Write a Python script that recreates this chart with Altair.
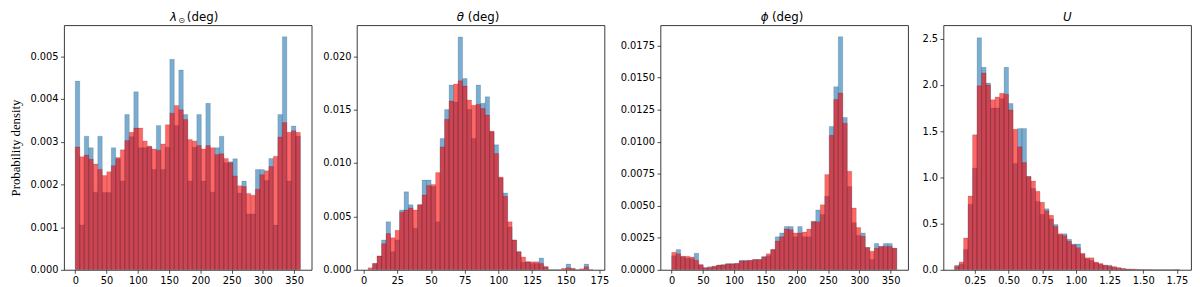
import altair as alt
import numpy as np
import pandas as pd

# ---------------- data ----------------
# Panel 1: lambda_sun (deg), 50 bins 0..360, values in units of 1e-3
lam_blue = [4.42, 1.05, 3.13, 2.86, 1.82, 3.13, 1.81, 1.81, 2.86, 2.60,
            2.08, 3.64, 3.12, 4.17, 2.86, 2.86, 2.88, 2.35, 3.38, 2.35,
            2.87, 4.93, 3.38, 4.68, 3.64, 2.08, 2.87, 3.64, 2.08, 3.90,
            1.82, 2.86, 3.13, 2.51, 2.53, 2.60, 1.80, 2.08, 1.31, 1.31,
            2.35, 2.35, 2.09, 2.61, 1.05, 3.64, 5.46, 2.08, 3.37, 3.13]
lam_red = [2.88, 2.65, 2.69, 2.59, 2.48, 2.35, 2.21, 2.30, 2.44, 2.63,
           2.81, 3.03, 3.22, 3.32, 3.32, 3.02, 2.90, 2.83, 2.80, 2.95,
           3.40, 3.67, 3.85, 3.75, 3.52, 3.05, 3.02, 2.91, 2.83, 2.91,
           2.86, 2.70, 2.72, 2.61, 2.51, 2.20, 1.97, 1.95, 1.79, 1.75,
           1.89, 2.23, 2.32, 2.42, 2.66, 3.11, 3.45, 3.22, 3.26, 3.22]
lam_range = [0.0, 360.0]

# Panel 2: theta (deg), 50 bins, units 1e-3
th_blue = [0.0, 0.6, 1.3, 2.8, 4.5, 1.7, 2.8, 5.6, 7.3, 6.1,
           3.9, 6.1, 8.4, 8.4, 7.8, 4.5, 12.3, 15.0, 17.3, 15.7,
           21.8, 17.9, 15.0, 12.3, 17.3, 15.6, 16.2, 12.9, 11.7, 8.6,
           7.2, 4.0, 2.8, 1.7, 0.7, 0.75, 0.6, 0.6, 1.1, 0.3,
           0.0, 0.0, 0.0, 0.0, 0.54, 0.1, 0.0, 0.0, 0.54, 0.0]
th_red = [0.2, 0.6, 1.3, 2.45, 3.4, 3.0, 3.7, 5.4, 5.6, 5.8,
          5.6, 6.1, 7.0, 7.9, 8.0, 9.1, 11.5, 14.1, 15.8, 17.4,
          17.7, 17.2, 15.9, 15.4, 15.5, 15.1, 14.5, 13.0, 10.9, 8.7,
          6.9, 4.5, 2.8, 1.7, 1.2, 0.75, 0.75, 0.75, 0.6, 0.3,
          0.0, 0.0, 0.0, 0.15, 0.2, 0.15, 0.0, 0.1, 0.3, 0.0]
th_range = [3.25, 170.35]

# Panel 3: phi (deg), 50 bins 0..360, units 1e-3
ph_blue = [1.10, 1.58, 1.05, 0.90, 0.87, 1.30, 0.37, 0.17, 0.25, 0.25,
           0.37, 0.42, 0.50, 0.50, 0.50, 0.75, 0.75, 0.72, 0.80, 0.80,
           1.05, 1.10, 1.58, 2.58, 2.88, 3.38, 3.38, 2.58, 3.38, 2.58,
           2.58, 3.80, 4.68, 4.33, 5.75, 11.2, 14.3, 18.2, 11.9, 6.5,
           3.68, 2.68, 2.88, 1.75, 0.80, 2.05, 1.83, 2.05, 2.05, 1.68]
ph_red = [1.38, 1.25, 1.05, 1.07, 1.00, 0.75, 0.42, 0.17, 0.17, 0.30,
          0.37, 0.37, 0.45, 0.45, 0.50, 0.70, 0.70, 0.75, 0.80, 0.80,
          1.00, 1.25, 1.58, 2.25, 2.58, 3.18, 3.13, 2.88, 2.88, 2.95,
          3.18, 3.75, 3.75, 5.08, 7.45, 10.5, 13.3, 13.8, 11.45, 7.7,
          4.83, 3.30, 2.63, 1.75, 1.45, 1.68, 1.83, 1.83, 1.83, 1.68]
ph_range = [0.0, 360.0]

# Panel 4: U, 50 bins
u_blue = [0.05, 0.06, 0.22, 0.71, 1.10, 2.51, 2.19, 2.02, 1.75, 1.75,
          1.85, 2.19, 1.80, 1.15, 1.53, 1.53, 1.01, 0.88, 0.74, 0.60,
          0.66, 0.55, 0.49, 0.38, 0.39, 0.33, 0.28, 0.28, 0.17, 0.12,
          0.10, 0.075, 0.06, 0.05, 0.05, 0.025, 0.017, 0.01, 0.007, 0.005,
          0.0, 0.0, 0.0, 0.0, 0.0, 0.0, 0.0, 0.0, 0.0, 0.003]
u_red = [0.035, 0.086, 0.345, 0.80, 1.46, 1.99, 2.13, 2.00, 1.84, 1.87,
         1.91, 1.90, 1.73, 1.52, 1.33, 1.16, 1.01, 0.96, 0.85, 0.73,
         0.64, 0.59, 0.47, 0.39, 0.37, 0.31, 0.27, 0.24, 0.18, 0.13,
         0.13, 0.086, 0.07, 0.05, 0.04, 0.035, 0.025, 0.017, 0.01, 0.01,
         0.007, 0.005, 0.004, 0.003, 0.002, 0.002, 0.001, 0.001, 0.001, 0.001]
u_range = [0.099, 1.769]

lam_xticks = [0, 50, 100, 150, 200, 250, 300, 350]
th_xticks = [0, 25, 50, 75, 100, 125, 150, 175]
ph_xticks = [0, 50, 100, 150, 200, 250, 300, 350]
u_xticks = [0.25, 0.50, 0.75, 1.00, 1.25, 1.50, 1.75]

lam_yticks = [0.0, 0.001, 0.002, 0.003, 0.004, 0.005]
th_yticks = [0.0, 0.005, 0.010, 0.015, 0.020]
ph_yticks = [0.0, 0.0025, 0.005, 0.0075, 0.010, 0.0125, 0.015, 0.0175]
u_yticks = [0.0, 0.5, 1.0, 1.5, 2.0, 2.5]

# title pieces: (symbol, subscript, rest)
title_parts = [("λ", "⊙", "(deg)"), ("θ", "", "(deg)"), ("ϕ", "", "(deg)"), ("U", "", "")]
# pixel layout of the title pieces inside each panel: (symbol right edge, subscript left, rest left)
title_pos = [(115, 116.5, 125), (109, 0, 113), (110, 0, 113.5), (126, 0, 0)]

BLUE = "#1f77b4"
RED = "#ff0000"
W = 252
H = 249
FONT = "DejaVu Sans"


def txt(s, **kw):
    return alt.Chart(pd.DataFrame({"t": [s]})).mark_text(
        font=FONT, baseline="alphabetic", color="#000", **kw).encode(text="t:N")


def title_layers(parts, pos):
    sym, sub, rest = parts
    xs, xsub, xr = pos
    ty = -4
    layers = []
    if rest:
        layers.append(txt(sym, fontSize=12, fontStyle="italic", align="right").encode(
            x=alt.value(xs), y=alt.value(ty)))
        if sub:
            layers.append(txt(sub, fontSize=8, align="left").encode(
                x=alt.value(xsub), y=alt.value(ty + 2)))
        layers.append(txt(rest, fontSize=12, align="left").encode(
            x=alt.value(xr), y=alt.value(ty)))
    else:
        layers.append(txt(sym, fontSize=12, fontStyle="italic", align="center").encode(
            x=alt.value(xs), y=alt.value(ty)))
    return layers


def panel(blue, red, rng, scale, xdomain, xticks, xfmt, ydomain, yticks, yfmt,
          parts, pos, ytitle=None):
    n = len(blue)
    edges = np.linspace(rng[0], rng[1], n + 1)
    df = pd.DataFrame({
        "x0": list(edges[:-1]) * 2,
        "x1": list(edges[1:]) * 2,
        "v": [b * scale for b in blue] + [r * scale for r in red],
        "s": ["b"] * n + ["r"] * n,
    })
    xaxis = alt.Axis(values=xticks, format=xfmt, title=None, labelFlush=False,
                     labelOverlap=False)
    if ytitle:
        yaxis = alt.Axis(values=yticks, format=yfmt, title=ytitle,
                         titleFont="Liberation Serif", titleFontSize=13,
                         titleFontWeight="normal", titleColor="#000",
                         titlePadding=8, labelOverlap=False)
    else:
        yaxis = alt.Axis(values=yticks, format=yfmt, title=None, labelOverlap=False)
    base = alt.Chart(df)
    xs = alt.Scale(domain=xdomain, nice=False, zero=False)
    ys = alt.Scale(domain=ydomain, nice=False)
    layers = []
    for key, col in (("b", BLUE), ("r", RED)):
        layers.append(
            base.transform_filter(alt.datum.s == key).mark_bar(
                color=col, fillOpacity=0.6, stroke="#000", strokeOpacity=0.22,
                strokeWidth=0.6, clip=True
            ).encode(
                x=alt.X("x0:Q", scale=xs, axis=xaxis),
                x2="x1:Q",
                y=alt.Y("v:Q", scale=ys, axis=yaxis),
                y2=alt.datum(0),
            )
        )
    layers += title_layers(parts, pos)
    return alt.layer(*layers).properties(width=W, height=H)


p1 = panel(lam_blue, lam_red, lam_range, 1e-3, [-18, 378], lam_xticks, "d",
           [0, 0.00573], lam_yticks, ".3f", title_parts[0], title_pos[0],
           ytitle="Probability density")
p2 = panel(th_blue, th_red, th_range, 1e-3, [-5.1, 178.7], th_xticks, "d",
           [0, 0.0229], th_yticks, ".3f", title_parts[1], title_pos[1])
p3 = panel(ph_blue, ph_red, ph_range, 1e-3, [-18, 378], ph_xticks, "d",
           [0, 0.0191], ph_yticks, ".4f", title_parts[2], title_pos[2])
p4 = panel(u_blue, u_red, u_range, 1.0, [0.016, 1.855], u_xticks, ".2f",
           [0, 2.646], u_yticks, ".1f", title_parts[3], title_pos[3])

row = alt.hconcat(alt.hconcat(alt.hconcat(p1, p2, spacing=9), p3, spacing=10), p4, spacing=12)

chart = row.properties(
    padding={"left": 0, "top": 0, "right": 0, "bottom": 0}
).configure_view(
    stroke="#222222", strokeWidth=0.9
).configure_axis(
    grid=False, domain=False, tickColor="#222222", tickSize=3.5, tickWidth=0.8,
    labelFont=FONT, labelFontSize=10, labelColor="#000000", labelPadding=2.5
)

chart.save("out.html", embed_options={"renderer": "svg", "actions": False})
